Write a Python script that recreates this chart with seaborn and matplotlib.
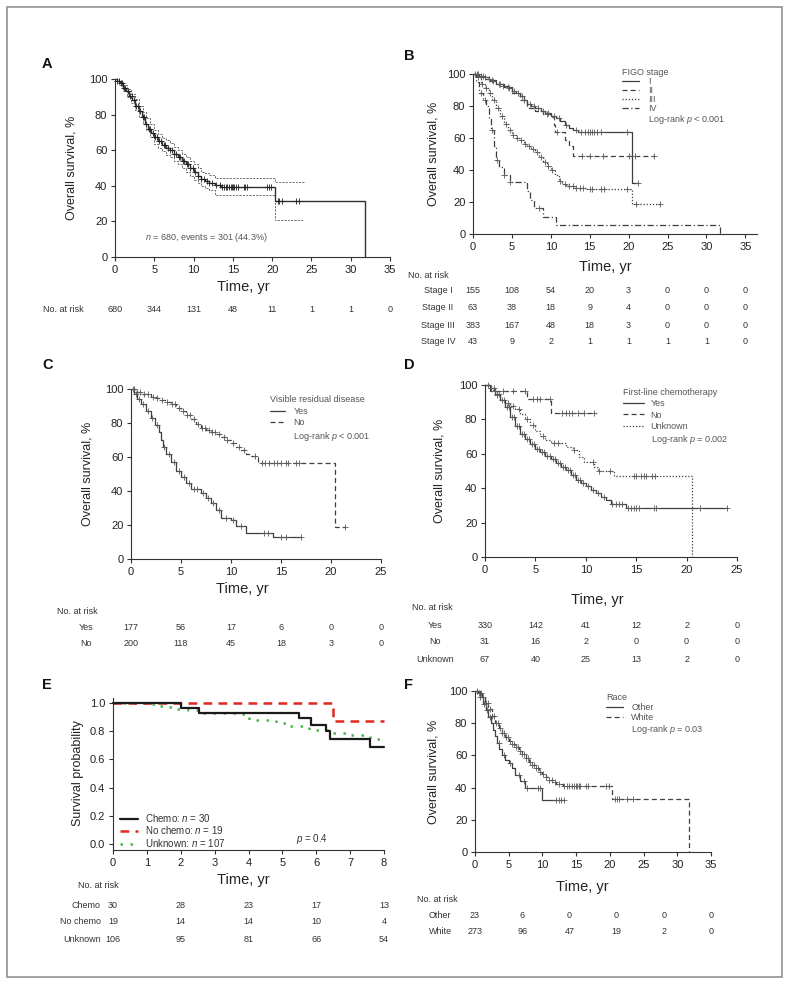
import numpy as np
import matplotlib
matplotlib.use('Agg')
import matplotlib.pyplot as plt
import seaborn as sns
from matplotlib.lines import Line2D
from matplotlib.transforms import blended_transform_factory

sns.set_style('ticks')
plt.rcParams['font.family'] = ['Liberation Sans', 'DejaVu Sans']
plt.rcParams['mathtext.fontset'] = 'custom'
plt.rcParams['mathtext.rm'] = 'Liberation Sans'
plt.rcParams['mathtext.it'] = 'Liberation Sans:italic'

# ---------------- data ----------------
# A: overall survival
a_t = [0, 0.3, 0.6, 1.0, 1.4, 1.8, 2.2, 2.6, 3.0, 3.4, 3.8, 4.2, 4.6, 5.0, 5.5, 6.0, 6.5,
       7.0, 7.5, 8.0, 8.5, 9.0, 9.5, 10.0, 10.5, 11.0, 11.5, 12.0, 12.7, 13.5, 20.4, 31.8]
a_s = [100, 99, 97.5, 95, 93, 90.5, 88, 85, 82, 78.5, 75, 72, 69.5, 67.5, 65, 63, 61.5,
       60, 58, 56, 54, 52, 50, 47.5, 45.5, 44, 42.5, 41.5, 40.5, 39.5, 31.2, 0]
a_ci_t = [0, 0.5, 1, 1.5, 2, 2.5, 3, 3.5, 4, 4.5, 5, 5.5, 6, 6.5, 7, 7.5, 8, 8.5, 9, 9.5,
          10, 10.5, 11, 11.5, 12, 12.7, 20.4, 24]
a_ci_hi = [100, 98.5, 96.5, 94.5, 91.5, 88.5, 85, 81.5, 78, 74.5, 71.5, 69, 67, 65.5, 64,
           62, 60, 58, 56, 54, 52, 50, 48, 47, 46, 44.5, 42, 42]
a_ci_lo = [100, 96.5, 93.5, 90, 86.5, 82.5, 78.5, 75, 71.5, 67.5, 63.5, 61.5, 59.5, 57.5,
           56, 54, 52, 50, 48, 45.5, 43, 41.5, 40, 38.5, 37.5, 35, 21, 21]
a_cens = [0.3, 0.5, 0.7, 0.9, 1.1, 1.3, 1.6, 1.9, 2.1, 2.4, 2.7, 2.9, 3.2, 3.5, 3.7, 4.0, 4.3,
          4.5, 4.8, 5.1, 5.3, 5.6, 5.9, 6.2, 6.4, 6.7, 7.0, 7.2, 7.5, 7.8, 8.1, 8.3, 8.6, 8.8,
          9.1, 9.3, 9.6, 9.9, 10.2, 10.6, 11.0, 11.3, 11.7, 12.0, 12.4, 12.9, 13.3, 13.6,
          13.9, 14.1, 14.3, 14.5, 14.7, 14.9, 15.0, 15.2, 15.4, 15.6, 16.4, 16.6, 16.8,
          19.3, 19.6, 19.8, 20.7, 20.9, 21.2, 23.0, 23.4]
a_risk_t = [0, 5, 10, 15, 20, 25, 30, 35]
a_risk = [680, 344, 131, 48, 11, 1, 1, 0]

# B: FIGO stage
b1_t = [0, 0.8, 1.5, 2.2, 3.0, 3.8, 4.5, 5.0, 5.5, 6.0, 6.5, 7.0, 7.5, 8.0, 8.7, 9.3, 10.0,
        10.7, 11.2, 11.8, 12.3, 12.8, 13.5, 20.4, 21.2]
b1_s = [100, 99, 97, 95.5, 94, 92.5, 91, 89.5, 88, 86, 84, 81.5, 80, 79, 77, 75.5, 74,
        72.5, 70.5, 68, 66.5, 65, 64, 32, 32]
b1_cens = [0.3, 0.6, 1.0, 1.3, 2.0, 2.6, 3.3, 3.9, 4.6, 5.3, 5.8, 6.3, 7.3, 7.8, 8.4, 9.0,
           9.6, 10.4, 11.0, 12.0, 13.2, 13.9, 14.4, 14.8, 15.1, 15.3, 15.6, 16.0, 16.5,
           19.8, 21.2]
b2_t = [0, 1.0, 2.0, 3.0, 4.0, 5.0, 6.0, 7.0, 8.0, 9.0, 10.0, 10.4, 10.6, 11.8, 12.3, 12.8, 23.2]
b2_s = [100, 98, 96, 94, 92, 88, 84, 79, 77, 75, 73, 68, 64, 59, 55, 49, 49]
b2_cens = [0.5, 1.5, 2.5, 3.5, 4.5, 6.5, 9.5, 10.8, 14.0, 15.0, 16.7, 20.0, 20.8, 23.2]
b3_t = [0, 0.5, 1.0, 1.5, 2.0, 2.5, 3.0, 3.5, 4.0, 4.5, 5.0, 5.5, 6.0, 6.5, 7.0, 7.5, 8.0,
        8.5, 9.0, 9.5, 10.0, 10.5, 11.0, 11.5, 12.0, 13.0, 14.5, 20.4, 24.0]
b3_s = [100, 98, 94, 91, 88, 84, 79, 74, 69, 65, 62, 60, 58.5, 56.5, 55, 53, 51, 48, 45,
        42.5, 40, 37, 33, 31, 30, 29, 28, 19, 19]
b3_cens = [0.7, 1.2, 1.7, 2.2, 2.7, 3.2, 3.7, 4.2, 4.7, 5.2, 5.7, 6.2, 6.7, 7.2, 7.7, 8.2,
           8.7, 9.2, 9.7, 10.2, 11.2, 11.8, 12.4, 12.8, 13.3, 13.7, 14.1, 15.0, 15.3, 16.4,
           16.8, 19.8, 21.0, 24.0]
b4_t = [0, 0.4, 0.8, 1.3, 1.7, 2.0, 2.3, 2.7, 3.0, 3.4, 4.0, 4.8, 7.0, 7.3, 7.8, 9.0, 10.7, 31.8]
b4_s = [100, 95, 88, 84, 80, 72, 65, 55, 46, 42, 37, 32.5, 27, 21.5, 16, 10.8, 5.4, 0]
b4_cens = [1.0, 1.5, 2.5, 3.1, 4.0, 4.8, 8.5]
b_risk_t = [0, 5, 10, 15, 20, 25, 30, 35]
b_risk = {'Stage I': [155, 108, 54, 20, 3, 0, 0, 0],
          'Stage II': [63, 38, 18, 9, 4, 0, 0, 0],
          'Stage III': [383, 167, 48, 18, 3, 0, 0, 0],
          'Stage IV': [43, 9, 2, 1, 1, 1, 1, 0]}

# C: visible residual disease
c_yes_t = [0, 0.3, 0.6, 1.0, 1.5, 2.0, 2.4, 2.8, 3.0, 3.2, 3.5, 4.0, 4.5, 5.0, 5.5, 6.0,
           7.0, 7.5, 8.0, 8.5, 9.0, 10.0, 10.5, 11.5, 14.2, 17.0]
c_yes_s = [100, 97, 94, 91, 87, 83, 79, 75, 70, 66, 62, 57, 52, 48, 45, 41, 39, 36, 33,
           29, 24, 23, 19.5, 15.5, 13, 13]
c_yes_cens = [0.2, 0.5, 0.8, 1.2, 1.7, 2.1, 2.6, 3.3, 3.8, 4.3, 4.8, 5.3, 5.8, 6.3, 6.6,
              7.2, 7.7, 8.2, 8.8, 9.5, 10.2, 11.0, 13.3, 13.7, 15.0, 15.5, 17.0]
c_no_t = [0, 0.5, 1.0, 2.0, 2.5, 3.0, 3.5, 4.0, 4.5, 5.0, 5.5, 6.0, 6.5, 7.0, 7.5, 8.0, 8.5,
          9.0, 9.5, 10.0, 10.5, 11.0, 11.5, 12.0, 12.7, 20.4, 21.4]
c_no_s = [100, 98.5, 97, 95.5, 94.5, 93.5, 92.5, 91, 89, 87, 85, 82.5, 79.5, 77, 76, 74.5,
          73.5, 72, 70, 68, 66, 64, 62, 60.5, 56.7, 19, 19]
c_no_cens = [0.3, 0.6, 0.9, 1.3, 1.7, 2.2, 2.6, 3.1, 3.6, 4.1, 4.4, 4.8, 5.2, 5.6, 5.9, 6.3,
             6.7, 7.1, 7.4, 7.8, 8.1, 8.4, 8.8, 9.3, 9.6, 10.2, 10.8, 11.3, 12.4, 13.1,
             13.4, 13.8, 14.3, 14.6, 15.0, 15.5, 15.7, 16.5, 16.8, 21.4]
c_risk_t = [0, 5, 10, 15, 20, 25]
c_risk = {'Yes': [177, 56, 17, 6, 0, 0],
          'No': [200, 118, 45, 18, 3, 0]}

# D: first-line chemotherapy
d_yes_t = [0, 0.5, 1.0, 1.5, 2.0, 2.5, 3.0, 3.5, 4.0, 4.5, 5.0, 5.5, 6.0, 6.5, 7.0, 7.5,
           8.0, 8.5, 9.0, 9.5, 10.0, 10.5, 11.0, 11.5, 12.0, 12.5, 14.0, 24.0]
d_yes_s = [100, 98, 95, 91, 87, 81.5, 76, 71.5, 68.5, 65.5, 63, 61, 58.5, 57, 54.5, 52.5,
           50.5, 47.5, 45, 43, 41, 39, 37, 35, 33, 31, 28.5, 28.5]
d_yes_cens = [0.3, 0.6, 0.9, 1.2, 1.4, 1.7, 1.9, 2.2, 2.4, 2.7, 2.9, 3.2, 3.4, 3.7, 3.9,
              4.2, 4.4, 4.7, 4.9, 5.2, 5.4, 5.7, 5.9, 6.2, 6.4, 6.7, 6.9, 7.2, 7.4, 7.7,
              7.9, 8.2, 8.4, 8.7, 8.9, 9.2, 9.4, 9.7, 10.2, 10.7, 11.2, 11.8, 12.6, 13.0,
              13.3, 13.6, 14.2, 14.5, 14.8, 15.0, 15.3, 16.8, 17.0, 21.3, 24.0]
d_no_t = [0, 0.5, 4.2, 6.5, 11.0]
d_no_s = [100, 96.5, 92, 83.5, 83.5]
d_no_cens = [1.0, 1.8, 2.8, 4.0, 4.8, 5.2, 5.5, 6.4, 7.6, 8.0, 8.3, 8.6, 9.2, 9.8, 10.8]
d_unk_t = [0, 0.6, 1.0, 1.5, 2.0, 2.5, 3.0, 3.5, 4.0, 4.5, 5.0, 5.5, 6.0, 6.5, 8.0, 8.7,
           9.3, 9.8, 10.8, 11.2, 12.8, 20.5]
d_unk_s = [100, 97, 94, 91, 89.5, 88, 86, 83, 80, 76.5, 73, 70.5, 68, 66.5, 64, 62, 58,
           55.5, 52.5, 50, 47, 0]
d_unk_cens = [1.2, 2.3, 2.8, 3.4, 4.2, 4.8, 5.8, 6.8, 7.2, 8.8, 10.7, 11.3, 12.4, 14.8,
              15.0, 15.5, 15.8, 16.0, 16.6, 16.9]
d_risk_t = [0, 5, 10, 15, 20, 25]
d_risk = {'Yes': [330, 142, 41, 12, 2, 0],
          'No': [31, 16, 2, 0, 0, 0],
          'Unknown': [67, 40, 25, 13, 2, 0]}

# E: chemo subgroup
e_chemo_t = [0, 2.0, 2.55, 5.5, 5.85, 6.3, 6.4, 7.6, 8.0]
e_chemo_s = [1.0, 0.965, 0.93, 0.89, 0.845, 0.80, 0.745, 0.69, 0.69]
e_nochemo_t = [0, 6.5, 8.0]
e_nochemo_s = [1.0, 0.875, 0.875]
e_unk_t = [0, 1.0, 1.3, 1.6, 1.9, 2.2, 2.5, 3.8, 4.0, 4.8, 5.1, 5.8, 6.4, 7.0, 7.6, 8.0]
e_unk_s = [1.0, 0.99, 0.98, 0.97, 0.96, 0.95, 0.93, 0.92, 0.88, 0.86, 0.835, 0.81, 0.79,
           0.775, 0.745, 0.745]
e_risk_t = [0, 2, 4, 6, 8]
e_risk = {'Chemo': [30, 28, 23, 17, 13],
          'No chemo': [19, 14, 14, 10, 4],
          'Unknown': [106, 95, 81, 66, 54]}

# F: race
f_white_t = [0, 0.5, 1.0, 1.5, 2.0, 2.5, 3.0, 3.5, 4.0, 4.5, 5.0, 5.5, 6.0, 6.5, 7.0, 7.5,
             8.0, 8.5, 9.0, 9.5, 10.0, 10.5, 11.0, 11.5, 12.0, 13.0, 20.3, 31.8]
f_white_s = [100, 98.5, 96, 92.5, 89, 84.5, 80, 77, 74, 71.5, 69, 67, 65, 63, 61, 58.5, 56,
             54, 52, 50, 48.5, 46.5, 45, 43.5, 42.5, 41, 33, 0]
f_white_cens = [0.3, 0.6, 0.9, 1.2, 1.6, 1.9, 2.2, 2.5, 2.8, 3.1, 3.4, 3.7, 4.0, 4.3, 4.6,
                4.9, 5.2, 5.5, 5.8, 6.1, 6.4, 6.7, 7.0, 7.3, 7.6, 7.9, 8.2, 8.5, 8.8, 9.1,
                9.4, 9.7, 10.1, 10.5, 11.0, 11.4, 11.9, 12.5, 13.2, 13.6, 14.0, 14.4, 14.7,
                15.0, 15.2, 15.4, 15.6, 16.4, 16.8, 19.4, 19.8, 20.8, 21.0, 21.3, 22.5, 23.5]
f_other_t = [0, 0.7, 1.2, 1.6, 2.0, 2.4, 2.7, 3.0, 3.3, 3.6, 4.0, 4.5, 5.0, 5.5, 6.0, 6.6,
             7.4, 10.0, 13.2]
f_other_s = [100, 96, 92, 88, 84, 80, 76, 72, 68, 64, 60, 57, 55, 52, 48, 44, 40, 32, 32]
f_other_cens = [0.8, 1.3, 1.8, 2.2, 3.5, 4.3, 5.2, 6.5, 7.2, 7.7, 9.3, 9.6, 12.0, 12.4,
                12.8, 13.2]
f_risk_t = [0, 7, 14, 21, 28, 35]
f_risk = {'Other': [23, 6, 0, 0, 0, 0],
          'White': [273, 96, 47, 19, 2, 0]}

# ---------------- styling ----------------
W, H = 790, 984
LINE = '#3f3f3f'
MARK = '#5a5a5a'
TXT = '#222222'
SOFT = '#555555'
RFS = 6.5
SOLID, DASH, DOT, DASHDOT = '-', (0, (4, 2.5)), (0, (1, 1.5)), (0, (5, 2, 1, 2))

fig = plt.figure(figsize=(W / 100, H / 100), dpi=100)


def fy(y):
    return 1 - y / H


def make_ax(l, t, r, b, xlim, ylim, xticks, yticks):
    ax = fig.add_axes([l / W, 1 - b / H, (r - l) / W, (b - t) / H])
    ax.set_xlim(*xlim)
    ax.set_ylim(*ylim)
    ax.set_xticks(xticks)
    ax.set_yticks(yticks)
    sns.despine(ax=ax)
    for sp in ('left', 'bottom'):
        ax.spines[sp].set_linewidth(0.8)
        ax.spines[sp].set_color('#333333')
    ax.tick_params(direction='out', length=3, width=0.8, pad=2.5, labelsize=8,
                   colors='#333333', labelcolor=TXT)
    return ax


def labels(ax, ytext, ylab_x, xlab_xy):
    ax.set_ylabel(ytext, fontsize=9, color=TXT, va='center')
    l, b, w, h = ax.get_position().bounds
    ax.yaxis.set_label_coords(ylab_x / W, b + h / 2, transform=fig.transFigure)
    ax.set_xlabel('Time, yr', fontsize=10.5, color=TXT, va='center')
    ax.xaxis.set_label_coords(xlab_xy[0] / W, fy(xlab_xy[1]), transform=fig.transFigure)


def km(ax, t, s, cens, ls, color=LINE, lw=0.9, mark=MARK):
    sns.lineplot(x=t, y=s, ax=ax, drawstyle='steps-post', estimator=None, sort=False,
                 color=color, linestyle=ls, linewidth=lw, clip_on=False)
    if cens:
        idx = np.searchsorted(t, cens, side='right') - 1
        cy = np.asarray(s, dtype=float)[np.clip(idx, 0, len(s) - 1)]
        sns.scatterplot(x=cens, y=cy, ax=ax, marker='+', s=24, color=mark,
                        linewidth=0.6, zorder=4, clip_on=False)


def risk_table(ax, times, rows, ys, label_x, label_ha, head_xy, head_ha='left'):
    fig.text(head_xy[0] / W, fy(head_xy[1]), 'No. at risk', ha=head_ha, va='center',
             fontsize=RFS, color='#333333')
    tr = blended_transform_factory(ax.transData, fig.transFigure)
    for (name, vals), y in zip(rows.items(), ys):
        if name:
            fig.text(label_x / W, fy(y), name, ha=label_ha, va='center', fontsize=RFS,
                     color='#333333')
        for tt, v in zip(times, vals):
            ax.text(tt, fy(y), str(v), transform=tr, ha='center', va='center',
                    fontsize=RFS, color='#333333', clip_on=False)


def legend(ax, handles, texts, title, x, y, hl, htp, lsp, fs=6.5, color=SOFT):
    leg = ax.legend(handles, texts, title=title, loc='upper left',
                    bbox_to_anchor=(x / W, fy(y)), bbox_transform=fig.transFigure,
                    frameon=False, fontsize=fs, title_fontsize=fs, handlelength=hl,
                    handletextpad=htp, labelspacing=lsp, borderpad=0, borderaxespad=0,
                    alignment='left', labelcolor=color)
    if title:
        leg.get_title().set_color(color)
    return leg


def letter(x, y, s):
    fig.text(x / W, fy(y), s, ha='left', va='center', fontsize=10.5, fontweight='bold',
             color='#111111')


def lh(ls, color=LINE, lw=0.9):
    return Line2D([], [], color=color, linestyle=ls, linewidth=lw)


blank = Line2D([], [], linestyle='none')
yt100 = [0, 20, 40, 60, 80, 100]

# ---------------- panel A ----------------
axA = make_ax(115, 79, 390, 257, (0, 35), (0, 100), range(0, 36, 5), yt100)
sns.lineplot(x=a_ci_t, y=a_ci_hi, ax=axA, drawstyle='steps-post', estimator=None, sort=False,
             color=SOFT, linestyle=(0, (2.5, 1.5)), linewidth=0.6)
sns.lineplot(x=a_ci_t, y=a_ci_lo, ax=axA, drawstyle='steps-post', estimator=None, sort=False,
             color=SOFT, linestyle=(0, (2.5, 1.5)), linewidth=0.6)
km(axA, a_t, a_s, a_cens, SOLID, color='#333333', lw=1.0, mark='#1e1e1e')
axA.text(3.8, 11.2, r'$\it{n}$ = 680, events = 301 (44.3%)', fontsize=6.5, color=SOFT,
         ha='left', va='center')
labels(axA, 'Overall survival, %', 72, (243, 287))
risk_table(axA, a_risk_t, {'': a_risk}, [310], 0, 'left', (43, 310))
letter(42, 64, 'A')

# ---------------- panel B ----------------
axB = make_ax(473, 74, 757, 234, (0, 36.5), (0, 100), range(0, 36, 5), yt100)
km(axB, b1_t, b1_s, b1_cens, SOLID)
km(axB, b2_t, b2_s, b2_cens, DASH)
km(axB, b3_t, b3_s, b3_cens, DOT)
km(axB, b4_t, b4_s, b4_cens, DASHDOT)
legend(axB, [lh(SOLID), lh(DASH), lh(DOT), lh(DASHDOT), blank],
       ['I', 'II', 'III', 'IV', r'Log-rank $\it{p}$ < 0.001'], 'FIGO stage',
       622, 68, 1.9, 1.0, 0.0)
labels(axB, 'Overall survival, %', 433, (605, 267))
risk_table(axB, b_risk_t, b_risk, [291, 308, 325, 342], 438, 'center', (408, 275))
letter(404, 56, 'B')

# ---------------- panel C ----------------
axC = make_ax(131, 389, 381, 559, (0, 25), (0, 100), range(0, 26, 5), yt100)
km(axC, c_yes_t, c_yes_s, c_yes_cens, SOLID)
km(axC, c_no_t, c_no_s, c_no_cens, DASH)
legend(axC, [lh(SOLID), lh(DASH), blank], ['Yes', 'No', r'Log-rank $\it{p}$ < 0.001'],
       'Visible residual disease', 270, 395, 1.7, 0.9, 0.3)
labels(axC, 'Overall survival, %', 88, (242, 589))
risk_table(axC, c_risk_t, c_risk, [627, 644], 86, 'center', (57, 612))
letter(42, 365, 'C')

# ---------------- panel D ----------------
axD = make_ax(485, 385, 737, 557, (0, 25), (0, 100), range(0, 26, 5), yt100)
km(axD, d_yes_t, d_yes_s, d_yes_cens, SOLID)
km(axD, d_no_t, d_no_s, d_no_cens, DASH)
km(axD, d_unk_t, d_unk_s, d_unk_cens, DOT)
legend(axD, [lh(SOLID), lh(DASH), lh(DOT), blank],
       ['Yes', 'No', 'Unknown', r'Log-rank $\it{p}$ = 0.002'],
       'First-line chemotherapy', 623, 388, 2.3, 0.75, 0.25)
labels(axD, 'Overall survival, %', 440, (597, 600))
risk_table(axD, d_risk_t, d_risk, [625, 642, 659], 435, 'center', (412, 608))
letter(404, 365, 'D')

# ---------------- panel E ----------------
RED, GREEN = '#e3261f', '#4fb450'
axE = make_ax(113, 698, 384, 850, (0, 8), (-0.043, 1.035), range(0, 9),
              [0, 0.2, 0.4, 0.6, 0.8, 1.0])
axE.set_yticklabels(['0.0', '0.2', '0.4', '0.6', '0.8', '1.0'])
km(axE, e_unk_t, e_unk_s, [], (0, (1, 3)), color=GREEN, lw=1.8)
km(axE, e_nochemo_t, e_nochemo_s, [], (0, (3.5, 2.5)), color=RED, lw=1.8)
km(axE, e_chemo_t, e_chemo_s, [], SOLID, color='#1a1a1a', lw=1.6)
legend(axE, [lh(SOLID, '#1a1a1a', 1.6), lh((0, (3.5, 2.5)), RED, 1.8),
             lh((0, (1, 3)), GREEN, 1.8)],
       [r'Chemo: $\it{n}$ = 30', r'No chemo: $\it{n}$ = 19', r'Unknown: $\it{n}$ = 107'],
       None, 120, 812, 1.85, 0.75, 0.05, fs=7, color='#333333')
axE.text(5.4, 0.035, r'$\it{p}$ = 0.4', fontsize=7, color='#333333', ha='left', va='center')
axE.set_ylabel('Survival probability', fontsize=9, color=TXT, va='center')
axE.yaxis.set_label_coords(78 / W, fy(773), transform=fig.transFigure)
axE.set_xlabel('Time, yr', fontsize=10.5, color=TXT, va='center')
axE.xaxis.set_label_coords(243 / W, fy(880), transform=fig.transFigure)
risk_table(axE, e_risk_t, e_risk, [906, 922, 939], 101, 'right', (98, 885), 'center')
letter(42, 685, 'E')

# ---------------- panel F ----------------
axF = make_ax(475, 691, 711, 852, (0, 35), (0, 100), range(0, 36, 5), yt100)
km(axF, f_other_t, f_other_s, f_other_cens, SOLID)
km(axF, f_white_t, f_white_s, f_white_cens, DASH)
legend(axF, [lh(SOLID), lh(DASH), blank], ['Other', 'White', r'Log-rank $\it{p}$ = 0.03'],
       'Race', 606, 693, 1.9, 0.9, 0.12)
labels(axF, 'Overall survival, %', 433, (582, 887))
risk_table(axF, f_risk_t, f_risk, [916, 932], 429, 'left', (417, 900))
letter(404, 685, 'F')

# outer frame
fig.add_artist(plt.Rectangle((7 / W, 1 - 977 / H), 775 / W, 970 / H, transform=fig.transFigure,
                             fill=False, edgecolor='#9a9a9a', linewidth=1.3))

fig.savefig('out.png', dpi=100)
